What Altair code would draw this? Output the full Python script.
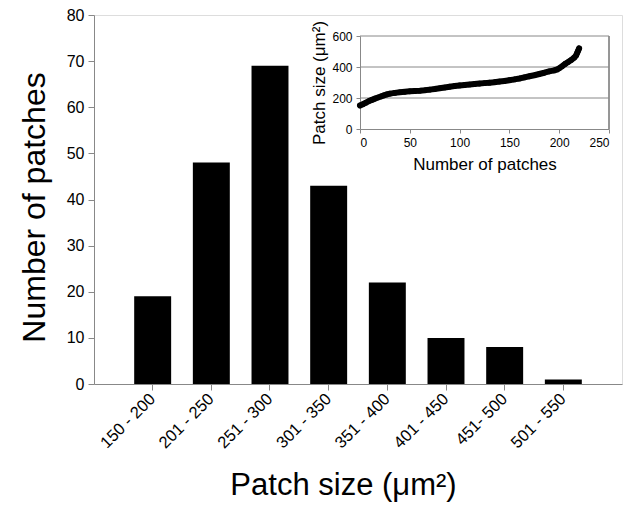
import altair as alt
import pandas as pd

FONT = "Liberation Sans"

# Main histogram
bins = ["150 - 200", "201 - 250", "251 - 300", "301 - 350",
        "351 - 400", "401 - 450", "451- 500", "501 - 550"]
counts = [19, 48, 69, 43, 22, 10, 8, 1]
y_ticks = [0, 10, 20, 30, 40, 50, 60, 70, 80]

# Inset: sorted patch sizes
inset_n = [0, 3, 6, 9, 12, 15, 18, 21, 24, 27, 30, 35, 40, 45, 50, 55, 60, 65,
           70, 75, 80, 85, 90, 95, 100, 105, 110, 115, 120, 125, 130, 135, 140,
           145, 150, 155, 160, 165, 170, 175, 180, 185, 190, 195, 198, 200, 203,
           206, 209, 212, 215, 217, 218, 219, 220]
inset_size = [152, 160, 170, 180, 188, 196, 203, 210, 217, 223, 228, 233, 237,
              240, 243, 245, 247, 250, 254, 258, 263, 268, 273, 277, 281, 284,
              287, 290, 293, 296, 299, 302, 306, 310, 315, 320, 326, 333, 340,
              347, 355, 363, 372, 378, 384, 392, 405, 420, 432, 445, 460, 475,
              490, 505, 520]
inset_x_ticks = [0, 50, 100, 150, 200, 250]
inset_y_ticks = [0, 200, 400, 600]
inset_grid = [200, 400, 600]

W, H = 528, 369
AX = "#888888"

main_df = pd.DataFrame({"bin": bins, "count": counts})

bars = alt.Chart(main_df).mark_bar(color="black").encode(
    x=alt.X("bin:N", sort=bins,
            scale=alt.Scale(paddingInner=0.37, paddingOuter=0.685),
            axis=alt.Axis(title="Patch size (μm²)", labelAngle=-45,
                          labelAlign="right", labelBaseline="middle",
                          labelFontSize=16.5, labelPadding=6, tickSize=6,
                          tickColor=AX, domainColor=AX, bandPosition=0.5,
                          titleFontSize=31, titleFontWeight="normal",
                          titleX=249, titleY=110, titleBaseline="alphabetic",
                          titleAlign="center")),
    y=alt.Y("count:Q", scale=alt.Scale(domain=[0, 80], nice=False),
            axis=alt.Axis(values=y_ticks, grid=False, title="Number of patches",
                          labelFontSize=16, labelPadding=4, tickSize=6,
                          tickColor=AX, domainColor=AX,
                          titleFontSize=32, titleFontWeight="normal",
                          titleX=-50, titleY=192, titleBaseline="alphabetic",
                          titleAlign="center", titleAngle=-90)),
)

xs = alt.Scale(domain=[0, 250], range=[266, 515], nice=False, zero=False)
ys = alt.Scale(domain=[0, 600], range=[114, 21], nice=False, zero=False)

inset_df = pd.DataFrame({"n": inset_n, "size": inset_size})
grid_df = pd.DataFrame({"g": inset_grid})

grid = alt.Chart(grid_df).mark_rule(color=AX, strokeWidth=1).encode(
    y=alt.Y("g:Q", scale=ys, axis=None),
    x=alt.X(datum=0, scale=xs, axis=None),
    x2=alt.X2(datum=250),
)

border = alt.Chart(grid_df).mark_rule(color=AX, strokeWidth=1).encode(
    x=alt.X(datum=250, scale=xs, axis=None),
    y=alt.Y(datum=0, scale=ys, axis=None),
    y2=alt.Y2(datum=600),
)

line = alt.Chart(inset_df).mark_line(color="black", strokeWidth=6,
                                     strokeCap="round", strokeJoin="round").encode(
    x=alt.X("n:Q", scale=xs,
            axis=alt.Axis(orient="bottom", offset=-255, values=inset_x_ticks,
                          grid=False, title="Number of patches",
                          labelFontSize=12, labelPadding=4, tickSize=4,
                          tickColor=AX, domainColor=AX,
                          titleFontSize=17, titleFontWeight="normal",
                          titleY=40, titleBaseline="alphabetic")),
    y=alt.Y("size:Q", scale=ys,
            axis=alt.Axis(orient="left", offset=-266, values=inset_y_ticks,
                          grid=False, title="Patch size (μm²)",
                          labelFontSize=12, labelPadding=4, tickSize=4,
                          tickColor=AX, domainColor=AX,
                          titleFontSize=17, titleFontWeight="normal",
                          titleX=-36, titleBaseline="alphabetic",
                          titleAngle=-90)),
)

points = alt.Chart(inset_df).mark_circle(color="black", size=32, opacity=1).encode(
    x=alt.X("n:Q", scale=xs, axis=None),
    y=alt.Y("size:Q", scale=ys, axis=None),
)

chart = alt.layer(bars, grid, border, line, points).resolve_scale(
    x="independent", y="independent"
).resolve_axis(
    x="independent", y="independent"
).properties(
    width=W, height=H, autosize="none",
    padding={"left": 94, "top": 15, "right": 8, "bottom": 124},
).configure_view(
    stroke="#999999", strokeWidth=1
).configure_axis(
    labelFont=FONT, titleFont=FONT, labelColor="black", titleColor="black"
).configure(background="white")

chart.save("out.html", embed_options={"renderer": "svg", "actions": False})
